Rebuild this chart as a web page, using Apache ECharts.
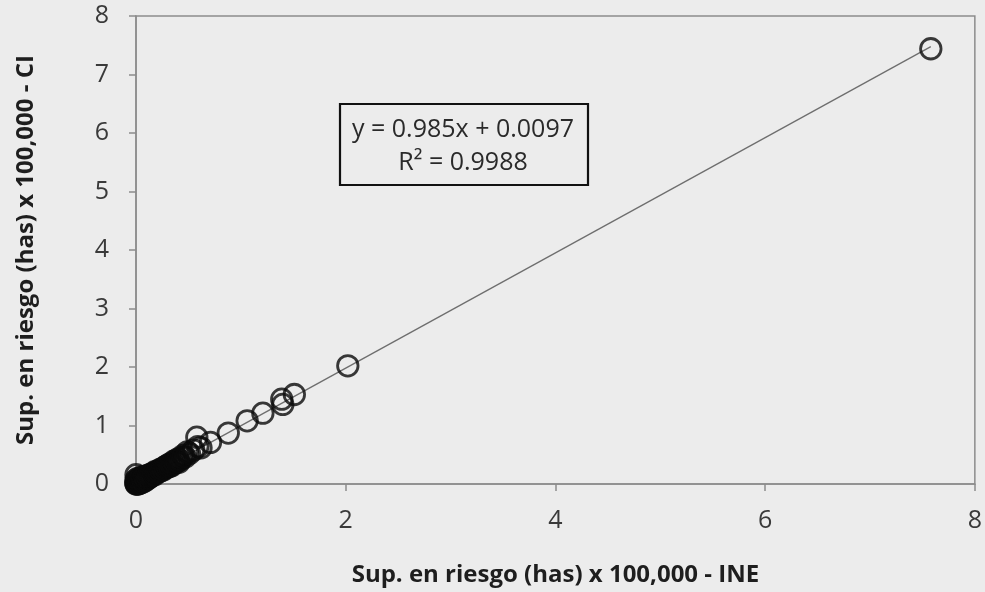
<!DOCTYPE html>
<html>
<head>
<meta charset="utf-8">
<script src="https://cdn.jsdelivr.net/npm/echarts@6/dist/echarts.min.js"></script>
<style>
  html, body { margin: 0; padding: 0; background: #ececec; }
  #chart { width: 985px; height: 592px; }
</style>
</head>
<body>
<div id="chart"></div>
<script>
// Surface at risk (has x 100,000): INE census vs CI estimate, one point per unit
const xIne = [
  0.00, 0.00, 0.00, 0.00, 0.00, 0.01, 0.01, 0.01, 0.02, 0.02,
  0.02, 0.03, 0.03, 0.03, 0.04, 0.04, 0.05, 0.05, 0.05, 0.06,
  0.06, 0.07, 0.07, 0.08, 0.08, 0.09, 0.09, 0.10, 0.10, 0.11,
  0.12, 0.12, 0.13, 0.14, 0.14, 0.15, 0.16, 0.17, 0.18, 0.18,
  0.19, 0.20, 0.21, 0.22, 0.23, 0.24, 0.25, 0.26, 0.27, 0.28,
  0.29, 0.30, 0.31, 0.32, 0.33, 0.34, 0.35, 0.36, 0.37, 0.38,
  0.39, 0.40, 0.41, 0.42, 0.44, 0.45, 0.47, 0.49, 0.51, 0.55,
  0.58, 0.59, 0.62, 0.71, 0.88, 1.06, 1.21, 1.39, 1.40, 1.51,
  2.02, 7.58
];
const yCi = [
  0.00, 0.03, 0.07, 0.16, 0.01, 0.00, 0.05, 0.09, 0.02, 0.06,
  0.00, 0.03, 0.08, 0.01, 0.04, 0.10, 0.02, 0.06, 0.12, 0.05,
  0.09, 0.04, 0.11, 0.07, 0.13, 0.06, 0.10, 0.08, 0.14, 0.11,
  0.10, 0.15, 0.12, 0.13, 0.17, 0.14, 0.16, 0.19, 0.16, 0.21,
  0.19, 0.20, 0.23, 0.21, 0.25, 0.23, 0.26, 0.24, 0.29, 0.27,
  0.31, 0.29, 0.33, 0.30, 0.35, 0.31, 0.34, 0.39, 0.36, 0.40,
  0.38, 0.43, 0.37, 0.41, 0.45, 0.49, 0.46, 0.55, 0.52, 0.58,
  0.80, 0.64, 0.62, 0.71, 0.87, 1.08, 1.21, 1.45, 1.36, 1.53,
  2.02, 7.44
];

// Least-squares fit reported for the comparison
const slope = 0.985;
const intercept = 0.0097;
const rSquared = 0.9988;

const xTicks = [0, 2, 4, 6, 8];
const yTicks = [0, 1, 2, 3, 4, 5, 6, 7, 8];

const points = xIne.map((x, i) => [x, yCi[i]]);
const xMin = Math.min(...xIne);
const xMax = Math.max(...xIne);
const fitLine = [[xMin, slope * xMin + intercept], [xMax, slope * xMax + intercept]];

const chart = echarts.init(document.getElementById('chart'), null, { renderer: 'canvas' });
const labelFont = '"Open Sans", "Liberation Sans", sans-serif';
const axisGray = '#8c8c8c';

chart.setOption({
  backgroundColor: '#ececec',
  animation: false,
  grid: { left: 136, right: 9, top: 16, bottom: 108, show: true, borderColor: axisGray, borderWidth: 1.5, backgroundColor: 'transparent' },
  xAxis: {
    type: 'value', min: 0, max: 8, interval: 2,
    name: 'Sup. en riesgo (has) x 100,000 - INE',
    nameLocation: 'middle', nameGap: 79,
    nameTextStyle: { fontFamily: labelFont, fontWeight: 'bold', fontSize: 24, color: '#1e1e1e' },
    axisLine: { lineStyle: { color: axisGray, width: 1.5 } },
    axisTick: { show: true, inside: false, length: 7, lineStyle: { color: axisGray, width: 1.5 } },
    axisLabel: { fontFamily: labelFont, fontSize: 25, color: '#3a3a3a', margin: 24,
                 formatter: v => xTicks.includes(v) ? String(v) : '' },
    splitLine: { show: false }
  },
  yAxis: {
    type: 'value', min: 0, max: 8, interval: 1,
    name: 'Sup. en riesgo (has) x 100,000 - CI',
    nameLocation: 'middle', nameGap: 98, nameRotate: 90,
    nameTextStyle: { fontFamily: labelFont, fontWeight: 'bold', fontSize: 24, color: '#1e1e1e' },
    axisLine: { lineStyle: { color: axisGray, width: 1.5 } },
    axisTick: { show: true, inside: false, length: 7, lineStyle: { color: axisGray, width: 1.5 } },
    axisLabel: { fontFamily: labelFont, fontSize: 25, color: '#3a3a3a', margin: 27,
                 formatter: v => yTicks.includes(v) ? String(v) : '' },
    splitLine: { show: false }
  },
  series: [
    {
      type: 'line',
      data: fitLine,
      symbol: 'none',
      lineStyle: { color: '#6e6e6e', width: 1.3 },
      z: 1,
      silent: true
    },
    {
      type: 'scatter',
      data: points,
      symbol: 'circle',
      symbolSize: 20.5,
      itemStyle: { color: 'rgba(0,0,0,0)', borderColor: '#0a0a0a', borderWidth: 2.8 },
      z: 2
    }
  ],
  graphic: [
    {
      type: 'rect',
      shape: { x: 340, y: 104, width: 248, height: 81 },
      style: { fill: '#ececec', stroke: '#111', lineWidth: 2.2 },
      z: 10
    },
    {
      type: 'text',
      x: 463, y: 130,
      style: { text: 'y = 0.985x + 0.0097', font: '25px ' + labelFont, fill: '#2a2a2a', align: 'center', verticalAlign: 'middle' },
      z: 11
    },
    {
      type: 'text',
      x: 463, y: 163,
      style: { text: 'R² = ' + rSquared.toFixed(4), font: '25px ' + labelFont, fill: '#2a2a2a', align: 'center', verticalAlign: 'middle' },
      z: 11
    }
  ]
});
</script>
</body>
</html>
